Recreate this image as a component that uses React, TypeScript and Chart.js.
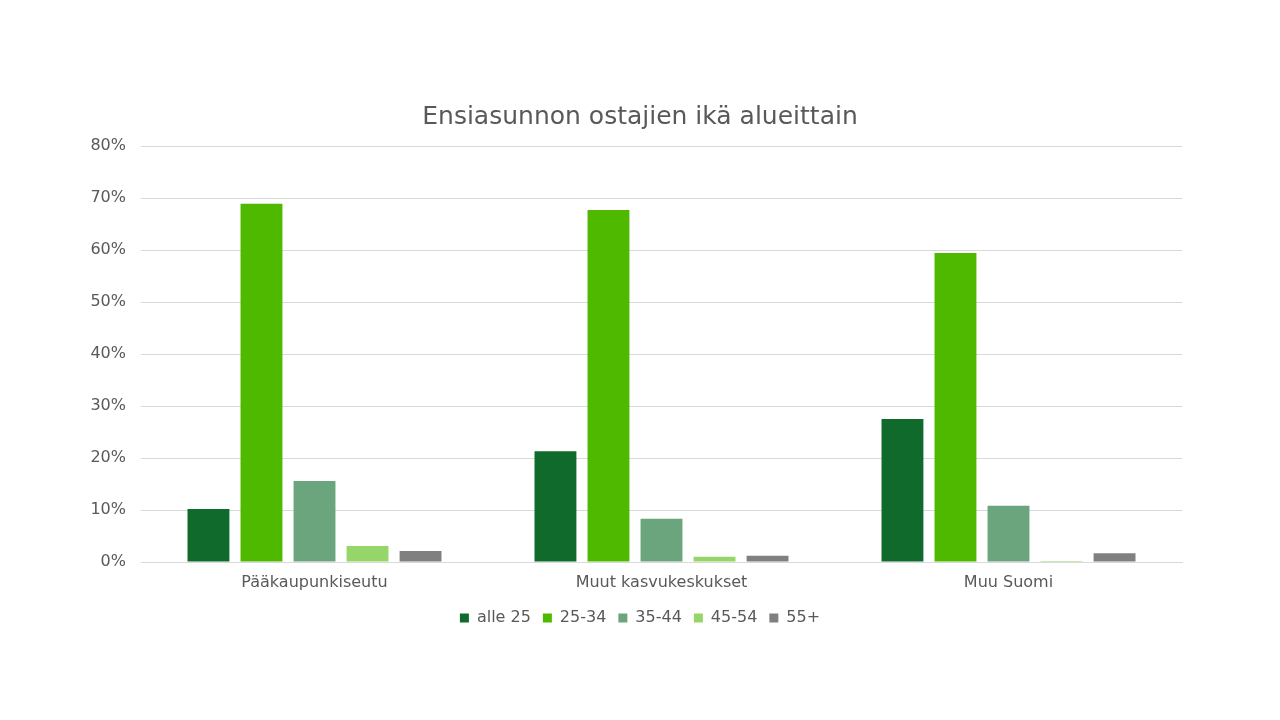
import React, { useEffect, useRef } from "react";
import { Chart, registerables } from "chart.js";

Chart.register(...registerables);

const categories = ["Pääkaupunkiseutu", "Muut kasvukeskukset", "Muu Suomi"];
const seriesNames = ["alle 25", "25-34", "35-44", "45-54", "55+"];
const alle25 = [10.2, 21.3, 27.5];
const age25_34 = [68.9, 67.7, 59.4];
const age35_44 = [15.6, 8.3, 10.8];
const age45_54 = [3.1, 1.0, 0.2];
const age55plus = [2.1, 1.2, 1.7];
const seriesColors = ["#0F6A2B", "#4FB900", "#6BA57D", "#96D56A", "#808080"];
const titleText = "Ensiasunnon ostajien ikä alueittain";

export default function App() {
  const ref = useRef<HTMLCanvasElement>(null);
  useEffect(() => {
    document.body.style.margin = "0";
    const values = [alle25, age25_34, age35_44, age45_54, age55plus];
    const font = "'DejaVu Sans', Verdana, sans-serif";
    const chart = new Chart(ref.current!, {
      type: "bar",
      data: {
        labels: categories,
        datasets: seriesNames.map((n, i) => ({
          label: n,
          data: values[i],
          backgroundColor: seriesColors[i],
          borderWidth: 0,
          categoryPercentage: 0.764,
          barPercentage: 0.79,
          yAxisID: "y",
        })),
      },
      options: {
        animation: false,
        responsive: false,
        maintainAspectRatio: false,
        layout: { padding: { left: 0, right: 0, top: 0, bottom: 84 } },
        plugins: {
          title: {
            display: true,
            text: titleText,
            color: "#595959",
            font: { family: font, size: 25, weight: "normal" },
            padding: { top: 102, bottom: 14 },
          },
          legend: {
            position: "bottom",
            labels: {
              color: "#595959",
              font: { family: font, size: 16 },
              boxWidth: 9,
              boxHeight: 9,
              padding: 12,
            },
          },
          tooltip: { enabled: false },
        },
        scales: {
          x: {
            grid: { display: false, drawTicks: false },
            border: { display: true, color: "#D9D9D9" },
            afterFit: (s: any) => {
              s.height = 36;
            },
            ticks: {
              color: "#595959",
              font: { family: font, size: 16 },
              padding: 11,
            },
          },
          y: {
            min: 0,
            max: 80,
            afterFit: (s: any) => {
              s.width = 141;
            },
            grid: { color: "#D9D9D9", drawTicks: false },
            border: { display: false },
            ticks: {
              stepSize: 10,
              color: "#595959",
              font: { family: font, size: 16 },
              padding: 15,
              callback: (v: any) => v + "%",
            },
          },
          yRight: {
            position: "right",
            min: 0,
            max: 1,
            afterFit: (s: any) => {
              s.width = 98;
            },
            grid: { display: false, drawTicks: false },
            border: { display: false },
            ticks: { display: false },
          },
        },
      },
    });
    return () => chart.destroy();
  }, []);
  return <canvas ref={ref} width={1280} height={720} style={{ display: "block" }} />;
}
